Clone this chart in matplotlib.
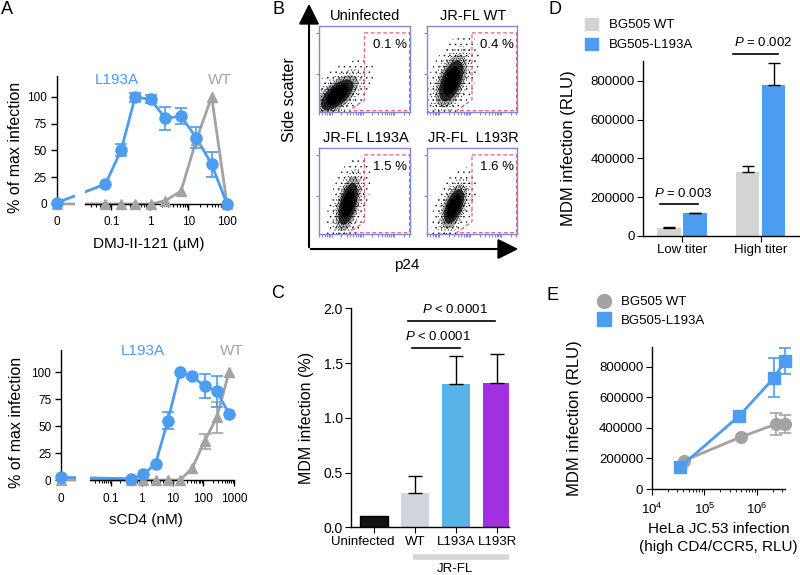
import numpy as np
import matplotlib
matplotlib.use('Agg')
import matplotlib.pyplot as plt
from matplotlib.patches import Ellipse, Polygon, Patch, FancyArrowPatch
from matplotlib.lines import Line2D
from matplotlib.ticker import FixedLocator, NullFormatter, StrMethodFormatter
from matplotlib.transforms import ScaledTranslation

plt.rcParams['font.family'] = ['Liberation Sans', 'DejaVu Sans']
plt.rcParams['mathtext.fontset'] = 'custom'
plt.rcParams['mathtext.rm'] = 'Liberation Sans'
plt.rcParams['mathtext.it'] = 'Liberation Sans:italic'
plt.rcParams['axes.linewidth'] = 1.0
plt.rcParams['hatch.linewidth'] = 0.3

W, H = 800, 575
BLUE = '#4c9cf0'
GRAY = '#a3a3a3'

# ---- data ----
# A top: DMJ-II-121 (uM); first value of each series is the 0 uM point
dmj_conc = [0.07, 0.18, 0.41, 1.04, 2.5, 6.4, 16, 40, 100]
dmj_l193a = [1, 18.6, 50.6, 99.7, 98, 80, 82, 62, 37, 0]
dmj_l193a_err = [0, 0, 5.4, 4.3, 3.6, 11, 7.6, 9.8, 11.5, 0]
dmj_wt = [0, 0, 0, 0, 0, 3, 12, 60, 100, 0]
dmj_wt_err = [0, 0, 0, 0, 0, 0, 0, 0, 0, 0]

# A bottom: sCD4 (nM)
scd4_conc = [0.45, 1.13, 2.8, 7.0, 17.6, 44, 110, 275, 687]
scd4_l193a = [2.5, 1.2, 5.2, 15, 55, 100, 96, 87, 82, 61.5]
scd4_l193a_err = [0, 0, 0, 0, 7.6, 0, 2, 11, 14, 0]
scd4_wt = [0, 0, 0, 0, 0, 0, 11, 36, 58, 100]
scd4_wt_err = [0, 0, 0, 0, 0, 0, 0, 7, 14, 0]

# B: flow cytometry gates
flow_titles = ['Uninfected', 'JR-FL WT', 'JR-FL L193A', 'JR-FL  L193R']
flow_pct = [0.1, 0.4, 1.5, 1.6]
# cloud shape per plot (axes fraction): centre, major/minor axis, angle
cloud_cx = [0.20, 0.27, 0.32, 0.30]
cloud_cy = [0.20, 0.36, 0.35, 0.32]
cloud_major = [0.45, 0.50, 0.50, 0.42]
cloud_minor = [0.22, 0.22, 0.18, 0.18]
cloud_angle = [45, 70, 76, 70]

# C
c_groups = ['Uninfected', 'WT', 'L193A', 'L193R']
c_mean = [0.107, 0.31, 1.31, 1.315]
c_err = [0.0, 0.16, 0.25, 0.27]
c_colors = ['#111111', '#cfd4de', '#58b4e6', '#a22fe0']

# D
d_titers = ['Low titer', 'High titer']
d_wt = [39500, 329000]
d_wt_err = [8500, 32000]
d_l193a = [116500, 781000]
d_l193a_err = [4500, 111000]

# E
e_wt_x = [4.1e4, 5.0e5, 2.23e6, 3.3e6]
e_wt_y = [185000, 342000, 424000, 424000]
e_wt_err = [0, 0, 71000, 60000]
e_l193a_x = [3.5e4, 4.5e5, 2.1e6, 3.3e6]
e_l193a_y = [146000, 477000, 730000, 835000]
e_l193a_err = [0, 0, 125000, 85000]


def box(x0, y0, x1, y1):
    # pixel box (origin top-left) -> figure fraction rect
    return [x0 / W, 1 - y1 / H, (x1 - x0) / W, (y1 - y0) / H]


def ftext(x, y, s, **kw):
    fig.text(x / W, 1 - y / H, s, **kw)


def clean(ax):
    ax.spines['top'].set_visible(False)
    ax.spines['right'].set_visible(False)


fig = plt.figure(figsize=(8, 5.75), dpi=100)


def dose_panel(rect, zero_pos, gap, xmax, conc, l193a, l193a_err, wt, wt_err,
               xticks, xticklabels, xlabel):
    ax = fig.add_axes(rect)
    x = np.array([zero_pos] + conc)
    ax.set_xscale('log')
    ax.set_xlim(zero_pos, xmax)
    ax.set_ylim(-2, 120)
    ax.plot(x, wt, color=GRAY, lw=2, zorder=2, clip_on=False)
    ax.plot(x, l193a, color=BLUE, lw=2, zorder=2.2, clip_on=False)
    ax.axvspan(gap[0], gap[1], color='white', lw=0, zorder=2.4)
    for y, e, c, m, ms, z in [(wt, wt_err, GRAY, '^', 7.5, 3), (l193a, l193a_err, BLUE, 'o', 8, 3.5)]:
        y = np.array(y, float)
        e = np.array(e, float)
        ax.plot(x, y, ls='none', marker=m, ms=ms, color=c, zorder=z, clip_on=False)
        k = e > 0
        ax.errorbar(x[k], y[k], yerr=e[k], fmt='none', ecolor=c, elinewidth=1.2,
                    capsize=4, capthick=1.2, zorder=z, clip_on=False)
    clean(ax)
    ax.spines['bottom'].set_position(('data', 0))
    ax.spines['bottom'].set_bounds(gap[1], xmax)
    ax.spines['left'].set_bounds(0, 120)
    ax.set_yticks([0, 25, 50, 75, 100])
    ax.set_xticks([zero_pos] + xticks)
    ax.set_xticklabels(['0'] + xticklabels)
    ax.xaxis.get_major_ticks()[0].tick1line.set_visible(False)
    minor = [m * 10.0 ** e for e in range(-3, 4) for m in range(2, 10)
             if gap[1] <= m * 10.0 ** e <= xmax]
    ax.xaxis.set_minor_locator(FixedLocator(minor))
    ax.xaxis.set_minor_formatter(NullFormatter())
    ax.tick_params(axis='both', which='major', labelsize=8.5, length=4, width=1, pad=3)
    ax.tick_params(axis='x', which='major', pad=5)
    ax.tick_params(axis='x', which='minor', length=2.5, width=0.8)
    ax.set_ylabel('% of max infection', fontsize=11.5)
    ax.set_xlabel(xlabel, fontsize=11)
    return ax


# ---- A ----
axA1 = dose_panel(box(56.7, 75.6, 227, 206.1), 0.0038, (0.0112, 0.021), 100,
                  dmj_conc, dmj_l193a, dmj_l193a_err, dmj_wt, dmj_wt_err,
                  [0.1, 1, 10, 100], ['0.1', '1', '10', '100'], 'DMJ-II-121 (µM)')
axA1.yaxis.set_label_coords(-0.195, 0.45)
axA1.xaxis.set_label_coords(0.54, -0.24)
ftext(117, 80, 'L193A', color=BLUE, fontsize=11, ha='center', va='center')
ftext(220, 80, 'WT', color=GRAY, fontsize=11, ha='center', va='center')

axA2 = dose_panel(box(61, 350.4, 234, 482.2), 0.00235, (0.0072, 0.0207), 1000,
                  scd4_conc, scd4_l193a, scd4_l193a_err, scd4_wt, scd4_wt_err,
                  [0.1, 1, 10, 100, 1000], ['0.1', '1', '10', '100', '1000'], 'sCD4 (nM)')
axA2.yaxis.set_label_coords(-0.215, 0.45)
axA2.xaxis.set_label_coords(0.49, -0.23)
ftext(143, 351, 'L193A', color=BLUE, fontsize=11, ha='center', va='center')
ftext(232, 351, 'WT', color=GRAY, fontsize=11, ha='center', va='center')

# ---- B ----
frame_col = '#8585d8'
flow_boxes = [(319, 26, 410, 112), (427, 26, 517, 112),
              (319, 148, 410, 234), (427, 148, 517, 234)]
gate = [(0.5, 0.92), (0.995, 0.92), (0.995, 0.015), (0.33, 0.015), (0.5, 0.143)]
xminor = [(np.log10(m * 10.0 ** d) - 1.6) / 2.9 for d in range(1, 5) for m in range(1, 10)]
xminor = [v for v in xminor if 0 <= v <= 1]
for i, b in enumerate(flow_boxes):
    ax = fig.add_axes(box(*b))
    ax.set_xlim(0, 1)
    ax.set_ylim(0, 1)
    ctr = (cloud_cx[i], cloud_cy[i])
    for s, h in [(2.3, '...'), (1.7, '.....'), (1.3, '........')]:
        ax.add_patch(Ellipse(ctr, cloud_major[i] * s, cloud_minor[i] * s, angle=cloud_angle[i],
                             facecolor='none', edgecolor='black', lw=0, hatch=h))
    for s, a in [(1.3, 0.25), (1.0, 0.75), (0.7, 1.0)]:
        ax.add_patch(Ellipse(ctr, cloud_major[i] * s, cloud_minor[i] * s,
                             angle=cloud_angle[i], facecolor='black', edgecolor='none', alpha=a))
    ax.add_patch(Polygon(gate, closed=True, fill=False, edgecolor='#e0607a', ls=(0, (3, 2)), lw=0.9))
    ax.text(0.97, 0.78, f'{flow_pct[i]} %', ha='right', va='center', fontsize=9.5,
            transform=ax.transAxes)
    for sp in ax.spines.values():
        sp.set_color(frame_col)
    ax.set_xticks(xminor)
    ax.set_yticks([0.44, 0.92])
    ax.tick_params(colors=frame_col, labelleft=False, labelbottom=False, length=2.5, width=0.8)
    cx = (b[0] + b[2]) / 2
    ftext(cx + 1, b[1] - 10, flow_titles[i], fontsize=10.5, ha='center', va='center')

for p0, p1 in [((309, 250), (309, 1)), ((308, 249), (521, 249))]:
    fig.add_artist(FancyArrowPatch((p0[0] / W, 1 - p0[1] / H), (p1[0] / W, 1 - p1[1] / H),
                                   transform=fig.transFigure, arrowstyle='-|>,head_length=0.9,head_width=0.45',
                                   mutation_scale=14, lw=1.5, color='black'))
ftext(290, 100, 'Side scatter', rotation=90, fontsize=11.5, ha='center', va='center')
ftext(407, 265, 'p24', fontsize=11, ha='center', va='center')

# ---- C ----
axC = fig.add_axes(box(351, 308.3, 509, 527.3))
xc = np.arange(len(c_groups))
axC.bar(xc, c_mean, width=0.7, color=c_colors, edgecolor=['black', 'none', 'none', 'none'], lw=1)
axC.errorbar(xc[1:], c_mean[1:], yerr=[[0] * 3, c_err[1:]], fmt='none', ecolor='black',
             elinewidth=1, capsize=5, capthick=1)
axC.set_xlim(-0.56, 3.29)
axC.set_ylim(0, 2.0)
axC.set_yticks([0, 0.5, 1.0, 1.5, 2.0])
axC.yaxis.set_major_formatter(StrMethodFormatter('{x:.1f}'))
axC.set_xticks(xc)
axC.set_xticklabels(c_groups)
clean(axC)
axC.tick_params(labelsize=9.5, length=4, pad=2)
axC.tick_params(axis='y', labelsize=10)
first = axC.get_xticklabels()[0]
first.set_transform(first.get_transform() + ScaledTranslation(-11 / 100, 0, fig.dpi_scale_trans))
axC.set_ylabel('MDM infection (%)', fontsize=11.5)
axC.yaxis.set_label_coords(-0.237, 0.5)
axC.plot([0.93, 2.1], [1.64, 1.64], color='black', lw=1.2)
axC.text(1.56, 1.74, '$P$ < 0.0001', ha='center', va='center', fontsize=9.5)
axC.plot([0.83, 2.95], [1.88, 1.88], color='black', lw=1.2, clip_on=False)
axC.text(1.98, 1.99, '$P$ < 0.0001', ha='center', va='center', fontsize=9.5)
tr = axC.get_xaxis_transform()
axC.plot([0.95, 3.29], [-0.136, -0.136], color='#d6d6d6', lw=4, transform=tr, clip_on=False,
         solid_capstyle='butt')
axC.text(1.98, -0.192, 'JR-FL', transform=tr, ha='center', va='center', fontsize=9.5)

# ---- D ----
axD = fig.add_axes(box(643.3, 60.8, 800, 236))
xd = np.arange(len(d_titers))
off, bw = 0.165, 0.3
axD.bar(xd - off, d_wt, width=bw, color='#d4d4d4')
axD.bar(xd + off, d_l193a, width=bw, color=BLUE)
axD.errorbar(xd - off, d_wt, yerr=[[0, 0], d_wt_err], fmt='none', ecolor='black',
             elinewidth=1, capsize=4, capthick=1)
axD.errorbar(xd + off, d_l193a, yerr=[[0, 0], d_l193a_err], fmt='none', ecolor='black',
             elinewidth=1, capsize=4, capthick=1)
axD.set_xlim(-0.49, 1.5)
axD.set_ylim(0, 904000)
axD.set_yticks([0, 200000, 400000, 600000, 800000])
axD.yaxis.set_major_formatter(StrMethodFormatter('{x:.0f}'))
axD.set_xticks(xd)
axD.set_xticklabels(d_titers)
clean(axD)
axD.tick_params(labelsize=9.5, length=4, pad=2)
axD.set_ylabel('MDM infection (RLU)', fontsize=12)
axD.yaxis.set_label_coords(-0.43, 0.5)
axD.plot([-0.28, 0.2], [164000, 164000], color='black', lw=1.2)
axD.text(0.02, 221000, '$P$ = 0.003', ha='center', va='center', fontsize=9.5)
axD.plot([0.65, 1.22], [940000, 940000], color='black', lw=1.2, clip_on=False)
axD.text(1.03, 1000000, '$P$ = 0.002', ha='center', va='center', fontsize=9.5)
axD.legend([Patch(color='#d4d4d4'), Patch(color=BLUE)], ['BG505 WT', 'BG505-L193A'],
           loc='upper left', bbox_to_anchor=(585 / W, 1 - 18 / H), bbox_transform=fig.transFigure,
           frameon=False, fontsize=9.5, handlelength=1.0, handleheight=1.0, handletextpad=0.8,
           labelspacing=0.5, borderpad=0, borderaxespad=0)

# ---- E ----
axE = fig.add_axes(box(651.7, 346.8, 785, 489))
axE.set_xscale('log')
axE.plot(e_wt_x, e_wt_y, color=GRAY, lw=2, marker='o', ms=8.5, clip_on=False, zorder=3)
axE.errorbar(e_wt_x[2:], e_wt_y[2:], yerr=e_wt_err[2:], fmt='none', ecolor=GRAY,
             elinewidth=1.2, capsize=4, capthick=1.2, clip_on=False, zorder=3)
axE.plot(e_l193a_x, e_l193a_y, color=BLUE, lw=2, marker='s', ms=8.5, clip_on=False, zorder=4)
axE.errorbar(e_l193a_x[2:], e_l193a_y[2:], yerr=e_l193a_err[2:], fmt='none', ecolor=BLUE,
             elinewidth=1.2, capsize=4, capthick=1.2, clip_on=False, zorder=4)
axE.set_xlim(1e4, 3.35e6)
axE.set_ylim(0, 931000)
axE.set_yticks([0, 200000, 400000, 600000, 800000])
axE.yaxis.set_major_formatter(StrMethodFormatter('{x:.0f}'))
axE.set_xticks([1e4, 1e5, 1e6])
axE.set_xticklabels(['10$^4$', '10$^5$', '10$^6$'])
clean(axE)
axE.tick_params(labelsize=9.5, length=4, pad=2)
axE.tick_params(axis='x', which='major', pad=5)
axE.tick_params(axis='x', which='minor', length=2.5)
axE.set_ylabel('MDM infection (RLU)', fontsize=12)
axE.yaxis.set_label_coords(-0.525, 0.5)
axE.set_xlabel('HeLa JC.53 infection\n(high CD4/CCR5, RLU)', fontsize=11, linespacing=1.3)
axE.legend([Line2D([], [], ls='none', marker='o', ms=10, color=GRAY),
            Line2D([], [], ls='none', marker='s', ms=10, color=BLUE)],
           ['BG505 WT', 'BG505-L193A'], loc='upper left',
           bbox_to_anchor=(597 / W, 1 - 296 / H), bbox_transform=fig.transFigure,
           frameon=False, fontsize=9.5, handlelength=1.0, handletextpad=0.8,
           labelspacing=0.5, borderpad=0, borderaxespad=0)

# panel letters
for s, x, y in [('A', 1, 10), ('B', 272, 9), ('C', 271, 293), ('D', 549, 9), ('E', 547, 295)]:
    ftext(x, y, s, fontsize=13, ha='left', va='center')

fig.savefig('out.png', dpi=100)
